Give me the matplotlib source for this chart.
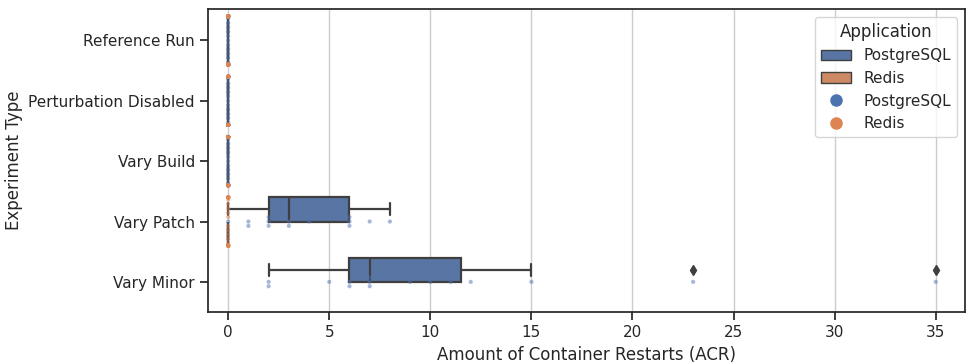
import warnings
import matplotlib
matplotlib.use("Agg")
import matplotlib.pyplot as plt
from matplotlib.patches import Patch
from matplotlib.lines import Line2D
import numpy as np
import pandas as pd
import seaborn as sns

warnings.filterwarnings("ignore")

experiments = ["Reference Run", "Perturbation Disabled", "Vary Build", "Vary Patch", "Vary Minor"]
apps = ["PostgreSQL", "Redis"]

# restarts per run
pg_reference = [0] * 30
pg_perturb_off = [0] * 30
pg_build = [0] * 30
pg_patch = [0, 1, 1, 2, 2, 2, 3, 3, 4, 6, 6, 6, 7, 8]
pg_minor = [2, 2, 5, 6, 6, 7, 7, 7, 9, 10, 11, 12, 15, 23, 35]

redis_reference = [0] * 30
redis_perturb_off = [0] * 30
redis_build = [0] * 30
redis_patch = [0] * 30

rows = []
for exp, vals in zip(experiments, [pg_reference, pg_perturb_off, pg_build, pg_patch, pg_minor]):
    for v in vals:
        rows.append((exp, "PostgreSQL", v))
for exp, vals in zip(experiments[:4], [redis_reference, redis_perturb_off, redis_build, redis_patch]):
    for v in vals:
        rows.append((exp, "Redis", v))
df = pd.DataFrame(rows, columns=["Experiment Type", "Application", "ACR"])

sns.set_theme(style="ticks")
plt.rcParams["font.family"] = ["DejaVu Sans"]
fig = plt.figure(figsize=(9.66, 3.62), dpi=100)
ax = fig.add_axes([0.2153, 0.138, 0.7837, 0.837])
ax.grid(axis="x", color="#cccccc", linewidth=1)
ax.set_axisbelow(True)

pal = sns.color_palette("deep", 2)

sns.swarmplot(data=df, x="ACR", y="Experiment Type", hue="Application",
              order=experiments, hue_order=apps, palette=pal, size=3,
              alpha=0.5, ax=ax, legend=False)
sns.boxplot(data=df, x="ACR", y="Experiment Type", hue="Application",
            order=experiments, hue_order=apps, palette=pal, linewidth=1.6,
            linecolor="#3f3f3f", width=0.8, gap=0,
            flierprops=dict(marker="d", markerfacecolor="#3f3f3f",
                            markeredgecolor="#3f3f3f", markersize=5),
            ax=ax, legend=False)

ax.set_xlim(-1, 36.45)
ax.set_ylim(4.5, -0.52)
ax.set_xlabel("Amount of Container Restarts (ACR)", fontsize=12)
ax.set_ylabel("Experiment Type", fontsize=12)
ax.tick_params(labelsize=11)

desat = [sns.desaturate(c, 0.75) for c in pal]
handles = [Patch(facecolor=desat[0], edgecolor="#3f3f3f", label="PostgreSQL"),
           Patch(facecolor=desat[1], edgecolor="#3f3f3f", label="Redis"),
           Line2D([], [], marker="o", linestyle="", color=pal[0], markersize=8, label="PostgreSQL"),
           Line2D([], [], marker="o", linestyle="", color=pal[1], markersize=8, label="Redis")]
ax.legend(handles=handles, title="Application", loc="upper right", fontsize=11,
          title_fontsize=12)

fig.savefig("out.png", dpi=100)
